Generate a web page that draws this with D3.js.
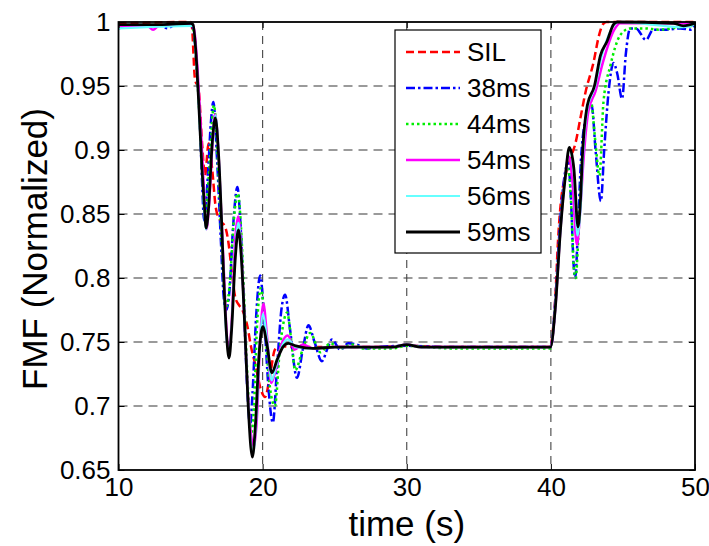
<!DOCTYPE html>
<html>
<head>
<meta charset="utf-8">
<title>FMF (Normalized)</title>
<script src="https://d3js.org/d3.v7.min.js"></script>
<style>
  body { margin: 0; background: #fff; }
  svg text { font-family: Arial, "Liberation Sans", sans-serif; fill: #000; }
</style>
</head>
<body>
<svg id="chart" width="709" height="546"></svg>
<script>
// ---- data ----
var xTicks = [10, 20, 30, 40, 50];
var yTicks = [0.65, 0.7, 0.75, 0.8, 0.85, 0.9, 0.95, 1];
var seriesNames = ["SIL", "38ms", "44ms", "54ms", "56ms", "59ms"];

var flatPart = [[23.5, 0.745], [25, 0.746], [27, 0.746], [29, 0.746], [30, 0.748], [31, 0.746], [34, 0.746], [37, 0.746], [39.97, 0.746]];

var sil = [[10, 0.999], [15.0, 1.0], [15.08, 0.998], [15.31, 0.955], [15.55, 0.948], [15.8, 0.905], [16.0, 0.88],
  [16.25, 0.905], [16.5, 0.885], [16.75, 0.855], [17.05, 0.845], [17.4, 0.84], [17.65, 0.826], [17.85, 0.806],
  [18.1, 0.785], [18.35, 0.779], [18.6, 0.775], [18.95, 0.762], [19.2, 0.746], [19.48, 0.733], [19.9, 0.712],
  [20.17, 0.707], [20.5, 0.723], [20.85, 0.744], [21.2, 0.747], [22, 0.746], [23, 0.746],
  [25, 0.746], [28, 0.746], [30, 0.747], [33, 0.746], [37, 0.746], [39.97, 0.746],
  [40.1, 0.755], [40.31, 0.785], [40.5, 0.83], [40.7, 0.86], [41.01, 0.88], [41.4, 0.895], [41.7, 0.905],
  [42.05, 0.925], [42.4, 0.945], [42.95, 0.968], [43.35, 0.99], [43.6, 0.998], [43.85, 1.0], [50, 1.0]];

var ms38 = [[10, 0.995], [11, 0.997], [13.0, 0.997], [13.4, 0.995], [13.8, 0.997], [15.1, 0.997], [15.25, 0.99],
  [15.45, 0.96], [15.65, 0.92], [15.8, 0.875], [15.94, 0.845], [16.2, 0.88], [16.4, 0.92], [16.58, 0.9375],
  [16.85, 0.89], [17.1, 0.83], [17.3, 0.785], [17.47, 0.775], [17.7, 0.79], [17.95, 0.84], [18.25, 0.871],
  [18.45, 0.845], [18.7, 0.78], [18.95, 0.71], [19.13, 0.685], [19.3, 0.71], [19.55, 0.77], [19.83, 0.802],
  [20.1, 0.77], [20.4, 0.715], [20.71, 0.687], [21.0, 0.73], [21.3, 0.775], [21.56, 0.787], [21.9, 0.76],
  [22.38, 0.722], [22.8, 0.745], [23.18, 0.763], [23.6, 0.75], [24.11, 0.735], [24.5, 0.745], [24.8, 0.752],
  [25.4, 0.744], [25.94, 0.749], [26.54, 0.748], [27.2, 0.745], [28, 0.746], [30, 0.747], [33, 0.746],
  [37, 0.746], [39.97, 0.746],
  [40.1, 0.752], [40.35, 0.79], [40.65, 0.845], [40.95, 0.88], [41.2, 0.89], [41.4, 0.86], [41.58, 0.81],
  [41.69, 0.8], [41.85, 0.83], [42.1, 0.895], [42.48, 0.927], [42.83, 0.935], [43.1, 0.9], [43.47, 0.86],
  [43.7, 0.9], [44.0, 0.945], [44.35, 0.968], [44.6, 0.96], [44.94, 0.94], [45.2, 0.975], [45.5, 0.995],
  [45.9, 0.995], [46.6, 0.986], [47.1, 0.994], [48, 0.994], [49, 0.995], [49.7, 0.994], [50, 0.998]];

var ms44 = [[10, 0.996], [12, 0.997], [15.1, 0.997], [15.25, 0.99], [15.45, 0.96], [15.65, 0.92], [15.85, 0.875],
  [16.0, 0.848], [16.3, 0.885], [16.62, 0.935], [16.9, 0.89], [17.15, 0.83], [17.35, 0.79], [17.5, 0.778],
  [17.75, 0.8], [18.0, 0.845], [18.27, 0.866], [18.5, 0.84], [18.75, 0.775], [19.0, 0.71], [19.2, 0.678],
  [19.4, 0.7], [19.6, 0.76], [19.87, 0.792], [20.15, 0.765], [20.45, 0.72], [20.85, 0.7], [21.2, 0.745],
  [21.7, 0.773], [22.0, 0.75], [22.26, 0.728], [22.8, 0.745], [23.3, 0.757], [24.0, 0.742], [24.7, 0.749],
  [25.4, 0.745], [26.2, 0.748], [27, 0.745], [29, 0.745], [30, 0.747], [33, 0.745], [37, 0.745], [39.97, 0.745],
  [40.1, 0.752], [40.35, 0.785], [40.65, 0.84], [40.95, 0.875], [41.2, 0.885], [41.4, 0.86], [41.58, 0.81],
  [41.72, 0.8], [41.9, 0.83], [42.15, 0.89], [42.5, 0.93], [42.75, 0.94], [43.1, 0.905], [43.37, 0.88],
  [43.65, 0.9375], [44.13, 0.966], [44.83, 0.99], [45.5, 0.995], [46.5, 0.995], [47.5, 0.994], [49, 0.996],
  [50, 0.997]];

var ms54 = [[10, 0.997], [12.0, 0.997], [12.4, 0.994], [12.8, 0.997], [15.15, 0.998], [15.3, 0.99], [15.5, 0.96],
  [15.7, 0.92], [15.9, 0.875], [16.1, 0.838], [16.3, 0.86], [16.52, 0.905], [16.7, 0.928], [16.95, 0.895],
  [17.15, 0.845], [17.35, 0.795], [17.55, 0.75], [17.68, 0.745], [17.85, 0.765], [18.1, 0.83], [18.3, 0.848],
  [18.5, 0.825], [18.75, 0.765], [19.0, 0.705], [19.4, 0.668], [19.6, 0.69], [19.8, 0.745], [20.05, 0.78],
  [20.3, 0.755], [20.6, 0.718], [20.9, 0.728], [21.3, 0.748], [21.75, 0.755], [22.2, 0.744], [22.8, 0.748]]
  .concat(flatPart).concat([
  [40.1, 0.752], [40.33, 0.78], [40.65, 0.836], [40.98, 0.878], [41.25, 0.895], [41.5, 0.875], [41.8, 0.826],
  [42.05, 0.855], [42.25, 0.89], [42.6, 0.93], [43.1, 0.946], [43.6, 0.968], [44.4, 0.994], [44.8, 0.999],
  [50, 0.999]]);

var ms56 = [[10, 0.995], [15.15, 0.997], [15.43, 0.965], [15.78, 0.888], [16.08, 0.838], [16.5, 0.905],
  [16.72, 0.927], [16.95, 0.895], [17.3, 0.8], [17.5, 0.752], [17.67, 0.742], [17.85, 0.762], [18.1, 0.82],
  [18.32, 0.843], [18.5, 0.823], [18.75, 0.765], [19.0, 0.702], [19.35, 0.664], [19.55, 0.688], [19.78, 0.742],
  [20.03, 0.772], [20.3, 0.752], [20.62, 0.72], [20.95, 0.732], [21.35, 0.747], [21.75, 0.752], [22.3, 0.746]]
  .concat(flatPart).concat([
  [40.31, 0.778], [40.66, 0.837], [41.01, 0.88], [41.28, 0.9], [41.6, 0.88], [41.85, 0.833], [42.08, 0.858],
  [42.22, 0.893], [42.55, 0.933], [43.05, 0.949], [43.5, 0.972], [44.35, 0.997], [44.7, 1.0], [49.2, 0.996],
  [50, 0.998]]);

var ms59 = [[10, 0.998], [13, 0.998], [15.0, 0.999], [15.17, 0.998], [15.43, 0.966], [15.61, 0.927],
  [15.78, 0.888], [15.94, 0.86], [16.08, 0.839], [16.25, 0.855], [16.5, 0.905], [16.72, 0.925], [16.95, 0.895],
  [17.15, 0.845], [17.3, 0.8], [17.5, 0.755], [17.67, 0.7375], [17.85, 0.76], [18.1, 0.815], [18.32, 0.8375],
  [18.5, 0.82], [18.75, 0.765], [19.0, 0.7], [19.29, 0.66], [19.5, 0.685], [19.75, 0.74], [20.01, 0.762],
  [20.3, 0.748], [20.64, 0.726], [21.0, 0.736], [21.4, 0.746], [21.77, 0.749], [22.3, 0.747]]
  .concat(flatPart).concat([
  [40.31, 0.777], [40.66, 0.837], [41.01, 0.88], [41.28, 0.902], [41.6, 0.885], [41.88, 0.84], [42.05, 0.86],
  [42.19, 0.896], [42.53, 0.935], [43.02, 0.95], [43.44, 0.974], [43.9, 0.985], [44.34, 0.998], [44.6, 1.0],
  [48.5, 0.999], [49.2, 0.997], [50, 0.999]]);

var seriesData = [sil, ms38, ms44, ms54, ms56, ms59];

// ---- styles ----
var colors = ["#ff0000", "#0000ff", "#00ee00", "#ff00ff", "#66ffff", "#000000"];
var dashes = ["8,4", "9,3,2.5,3", "2.5,3", null, null, null];
var widths = [2.5, 2.5, 2.5, 2.5, 2.2, 2.8];

var mLeft = 118.5, mRight = 695, mTop = 22, mBottom = 470;

var svg = d3.select("#chart");
svg.append("rect").attr("width", 709).attr("height", 546).attr("fill", "#fff");

var x = d3.scaleLinear().domain([10, 50]).range([mLeft, mRight]);
var y = d3.scaleLinear().domain([0.65, 1]).range([mBottom, mTop]);

// grid
var grid = svg.append("g");
grid.selectAll(".gy")
  .data(yTicks.slice(1, -1))
  .enter().append("line")
  .attr("x1", mLeft).attr("x2", mRight)
  .attr("y1", function (d) { return y(d); })
  .attr("y2", function (d) { return y(d); })
  .attr("stroke", "#7a7a7a").attr("stroke-width", 1.6).attr("stroke-dasharray", "9,6");
grid.selectAll(".gx")
  .data(xTicks.slice(1, -1))
  .enter().append("line")
  .attr("y1", mTop).attr("y2", mBottom)
  .attr("x1", function (d) { return x(d); })
  .attr("x2", function (d) { return x(d); })
  .attr("stroke", "#444").attr("stroke-width", 1.1).attr("stroke-dasharray", "8,6");

// curves
svg.append("clipPath").attr("id", "clip")
  .append("rect").attr("x", mLeft).attr("y", mTop - 2).attr("width", mRight - mLeft).attr("height", mBottom - mTop + 2);

var line = d3.line()
  .x(function (d) { return x(d[0]); })
  .y(function (d) { return y(d[1]); })
  .curve(d3.curveMonotoneX);

svg.append("g").attr("clip-path", "url(#clip)")
  .selectAll("path")
  .data(seriesData)
  .enter().append("path")
  .attr("d", line)
  .attr("fill", "none")
  .attr("stroke", function (d, i) { return colors[i]; })
  .attr("stroke-width", function (d, i) { return widths[i]; })
  .attr("stroke-dasharray", function (d, i) { return dashes[i]; })
  .attr("stroke-linejoin", "round");

// axes
var xAxis = d3.axisBottom(x).tickValues(xTicks).tickSizeInner(-6).tickSizeOuter(0).tickPadding(8)
  .tickFormat(d3.format("d"));
var yAxis = d3.axisLeft(y).tickValues(yTicks).tickSizeInner(-6).tickSizeOuter(0).tickPadding(8)
  .tickFormat(function (d) { return String(+d.toFixed(2)); });

svg.append("g").attr("transform", "translate(0," + mBottom + ")").call(xAxis);
svg.append("g").attr("transform", "translate(" + mLeft + ",0)").call(yAxis);
svg.append("g").attr("transform", "translate(0," + mTop + ")")
  .call(d3.axisTop(x).tickValues(xTicks).tickSizeInner(-6).tickSizeOuter(0).tickFormat(""));
svg.append("g").attr("transform", "translate(" + mRight + ",0)")
  .call(d3.axisRight(y).tickValues(yTicks).tickSizeInner(-6).tickSizeOuter(0).tickFormat(""));

svg.selectAll(".domain").remove();
svg.selectAll(".tick line").attr("stroke", "#000").attr("stroke-width", 1);
svg.selectAll(".tick text").attr("font-size", 26).attr("font-family", "Arial, 'Liberation Sans', sans-serif");

svg.append("rect")
  .attr("x", mLeft).attr("y", mTop).attr("width", mRight - mLeft).attr("height", mBottom - mTop)
  .attr("fill", "none").attr("stroke", "#000").attr("stroke-width", 1.8);

// titles
svg.append("text")
  .attr("x", (mLeft + mRight) / 2).attr("y", 536)
  .attr("text-anchor", "middle").attr("font-size", 35)
  .text("time (s)");
svg.append("text")
  .attr("transform", "translate(47,249) rotate(-90)")
  .attr("text-anchor", "middle").attr("font-size", 35)
  .text("FMF (Normalized)");

// legend
var lg = svg.append("g");
lg.append("rect").attr("x", 395).attr("y", 30).attr("width", 146).attr("height", 223)
  .attr("fill", "#fff").attr("stroke", "#000").attr("stroke-width", 1.2);
var item = lg.selectAll(".item")
  .data(seriesNames)
  .enter().append("g")
  .attr("transform", function (d, i) { return "translate(0," + (52 + i * 36) + ")"; });
item.append("line")
  .attr("x1", 406).attr("x2", 460)
  .attr("stroke", function (d, i) { return colors[i]; })
  .attr("stroke-width", function (d, i) { return widths[i]; })
  .attr("stroke-dasharray", function (d, i) { return dashes[i]; });
item.append("text")
  .attr("x", 467).attr("y", 9)
  .attr("font-size", 26)
  .text(function (d) { return d; });
</script>
</body>
</html>
